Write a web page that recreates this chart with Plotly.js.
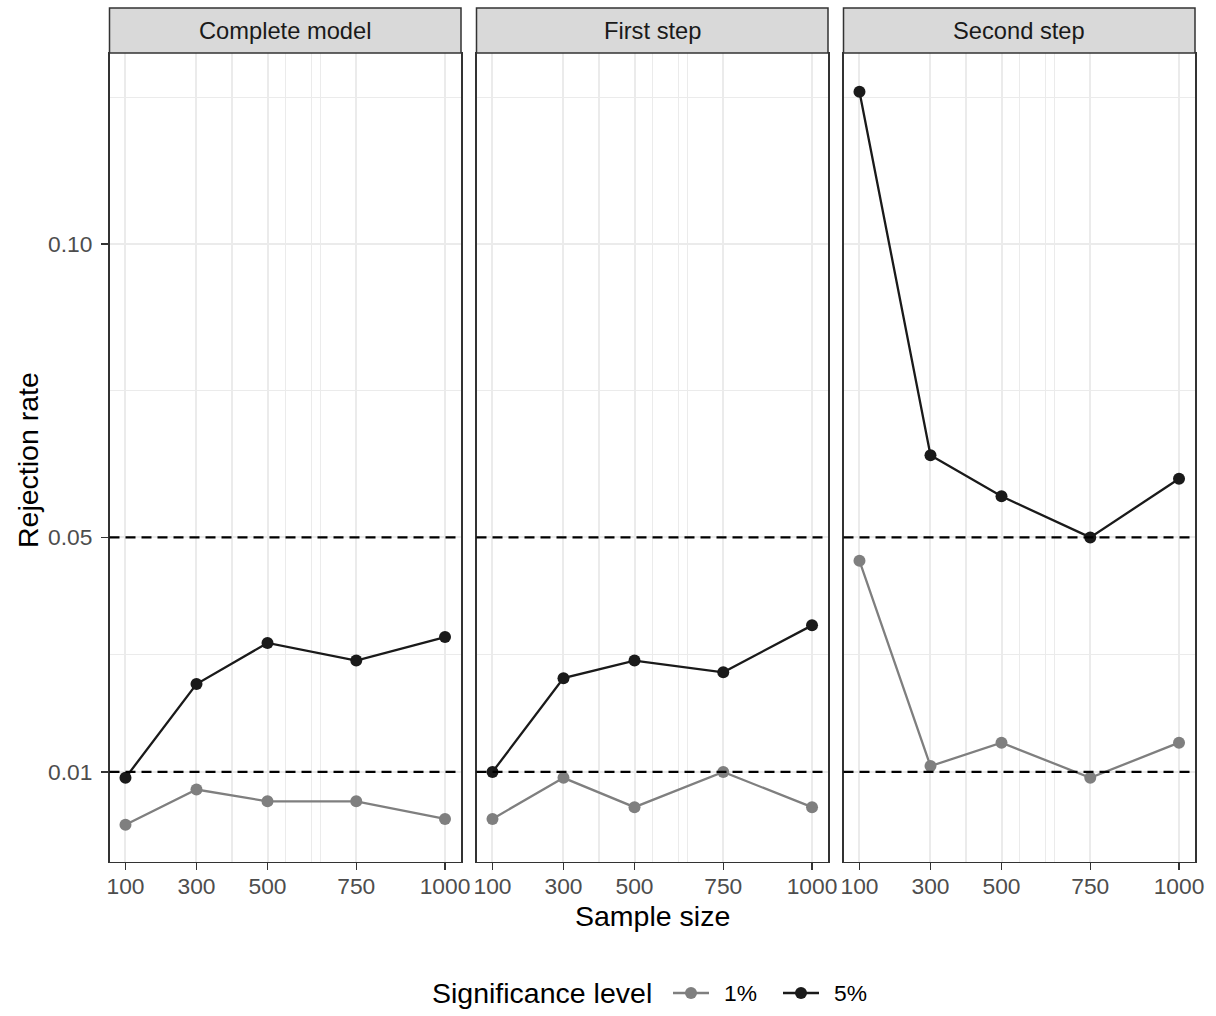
<!DOCTYPE html>
<html>
<head>
<meta charset="utf-8">
<script src="https://cdn.plot.ly/plotly-3.0.1.min.js"></script>
<style>html,body{margin:0;padding:0;background:#fff;}</style>
</head>
<body>
<div id="chart" style="width:1216px;height:1016px;"></div>
<script>
// ---- data ----
const sampleSizes = [100, 300, 500, 750, 1000];
const sampleLabels = ['100', '300', '500', '750', '1000'];
const panelNames = ['Complete model', 'First step', 'Second step'];
const levelNames = ['1%', '5%'];
const complete1 = [0.001, 0.007, 0.005, 0.005, 0.002];
const complete5 = [0.009, 0.025, 0.032, 0.029, 0.033];
const first1 = [0.002, 0.009, 0.004, 0.010, 0.004];
const first5 = [0.010, 0.026, 0.029, 0.027, 0.035];
const second1 = [0.046, 0.011, 0.015, 0.009, 0.015];
const second5 = [0.126, 0.064, 0.057, 0.050, 0.060];
const refLevels = [0.01, 0.05];
const yTickVals = [0.01, 0.05, 0.10];
const yTickText = ['0.01', '0.05', '0.10'];
const xMinorVals = [400, 550, 625, 650];
const yMinorVals = [0.03, 0.075, 0.125];

const series1 = [complete1, first1, second1];
const series5 = [complete5, first5, second5];

// ---- layout geometry ----
const W = 1216, H = 1016;
const panelPx = [[109.5, 461], [476.5, 828], [843.5, 1195]];
const domains = panelPx.map(p => [p[0] / W, p[1] / W]);
const plotTopPx = 53, plotBottomPx = 861.7, stripTopPx = 8;
const yDomain = [1 - plotBottomPx / H, 1 - plotTopPx / H];
const stripTop = 1 - stripTopPx / H;

const FONT = 'Liberation Sans, Arial, Helvetica, sans-serif';
const colors = ['#7F7F7F', '#1A1A1A'];
const LINE_W = 2.3, MARKER_SIZE = 12;

const traces = [];
for (let p = 0; p < 3; p++) {
  const ax = p === 0 ? '' : String(p + 1);
  [series1[p], series5[p]].forEach((vals, k) => {
    traces.push({
      type: 'scatter', mode: 'lines+markers',
      x: sampleSizes, y: vals,
      xaxis: 'x' + ax, yaxis: 'y' + ax,
      name: levelNames[k], showlegend: false,
      line: {color: colors[k], width: LINE_W},
      marker: {color: colors[k], size: MARKER_SIZE},
      hoverinfo: 'x+y'
    });
  });
}

const layout = {
  width: W, height: H,
  margin: {l: 0, r: 0, t: 0, b: 0, autoexpand: false},
  paper_bgcolor: '#FFFFFF', plot_bgcolor: '#FFFFFF',
  font: {family: FONT, color: '#000000'},
  showlegend: false,
  shapes: [], annotations: []
};

for (let p = 0; p < 3; p++) {
  const ax = p === 0 ? '' : String(p + 1);
  layout['xaxis' + ax] = {
    domain: domains[p], anchor: 'y' + ax,
    range: [55, 1045],
    tickvals: sampleSizes, ticktext: sampleLabels,
    ticks: 'outside', ticklen: 7, tickwidth: 1.5, tickcolor: '#333333',
    ticklabelstandoff: -4,
    tickfont: {size: 22.8, color: '#4D4D4D', family: FONT},
    showline: true, mirror: true, linecolor: '#333333', linewidth: 1.5,
    showgrid: true, gridcolor: '#EBEBEB', gridwidth: 2, zeroline: false,
    minor: {tickvals: xMinorVals, showgrid: true, gridcolor: '#EBEBEB', gridwidth: 1.1, ticks: ''},
    fixedrange: true
  };
  layout['yaxis' + ax] = {
    domain: yDomain, anchor: 'x' + ax,
    range: [-0.0053, 0.1326],
    tickvals: yTickVals, ticktext: yTickText,
    ticks: p === 0 ? 'outside' : '', ticklen: 7, tickwidth: 1.5, tickcolor: '#333333',
    ticklabelstandoff: 4,
    showticklabels: p === 0,
    tickfont: {size: 22.8, color: '#4D4D4D', family: FONT},
    showline: true, mirror: true, linecolor: '#333333', linewidth: 1.5,
    showgrid: true, gridcolor: '#EBEBEB', gridwidth: 2, zeroline: false,
    minor: {tickvals: yMinorVals, showgrid: true, gridcolor: '#EBEBEB', gridwidth: 1.1, ticks: ''},
    fixedrange: true
  };
  if (p > 0) layout['yaxis' + ax].matches = 'y';

  // strip
  layout.shapes.push({
    type: 'rect', xref: 'paper', yref: 'paper',
    x0: domains[p][0], x1: domains[p][1], y0: yDomain[1], y1: stripTop,
    fillcolor: '#D9D9D9', line: {color: '#333333', width: 1.5}, layer: 'above'
  });
  layout.annotations.push({
    xref: 'x' + ax + ' domain', yref: 'paper',
    x: 0.5, y: (yDomain[1] + stripTop) / 2, xanchor: 'center', yanchor: 'middle',
    text: panelNames[p], showarrow: false,
    font: {size: 23.7, color: '#1A1A1A', family: FONT}
  });
  // reference lines
  refLevels.forEach(lv => {
    layout.shapes.push({
      type: 'line', xref: 'x' + ax + ' domain', yref: 'y' + ax,
      x0: 0, x1: 1, y0: lv, y1: lv,
      line: {color: '#000000', width: 2.2, dash: '10px,6px'}, layer: 'above'
    });
  });
}

// axis titles
layout.annotations.push({
  xref: 'paper', yref: 'paper', x: (panelPx[0][0] + panelPx[2][1]) / 2 / W, y: 1 - 916 / H,
  xanchor: 'center', yanchor: 'middle', text: 'Sample size', showarrow: false,
  font: {size: 28.5, color: '#000000', family: FONT}
});
layout.annotations.push({
  xref: 'paper', yref: 'paper', x: 28 / W, y: 1 - 460 / H,
  xanchor: 'center', yanchor: 'middle', text: 'Rejection rate', textangle: -90, showarrow: false,
  font: {size: 28.5, color: '#000000', family: FONT}
});

// legend (drawn as a key at the bottom)
const legY = 1 - 993 / H;
layout.annotations.push({
  xref: 'paper', yref: 'paper', x: 430 / W, y: legY, xanchor: 'left', yanchor: 'middle',
  text: 'Significance level', showarrow: false,
  font: {size: 28.5, color: '#000000', family: FONT}
});
const keyStartPx = [673, 783];
levelNames.forEach((nm, k) => {
  const x0 = keyStartPx[k], x1 = x0 + 36, xc = x0 + 18, r = MARKER_SIZE / 2;
  layout.shapes.push({
    type: 'line', xref: 'paper', yref: 'paper', x0: x0 / W, x1: x1 / W, y0: legY, y1: legY,
    line: {color: colors[k], width: LINE_W}
  });
  layout.shapes.push({
    type: 'circle', xref: 'paper', yref: 'paper',
    x0: (xc - r) / W, x1: (xc + r) / W, y0: legY - r / H, y1: legY + r / H,
    fillcolor: colors[k], line: {color: colors[k], width: 0}
  });
  layout.annotations.push({
    xref: 'paper', yref: 'paper', x: (x1 + 13) / W, y: legY, xanchor: 'left', yanchor: 'middle',
    text: nm, showarrow: false,
    font: {size: 22.8, color: '#000000', family: FONT}
  });
});

Plotly.newPlot('chart', traces, layout, {displayModeBar: false, staticPlot: true});
</script>
</body>
</html>
